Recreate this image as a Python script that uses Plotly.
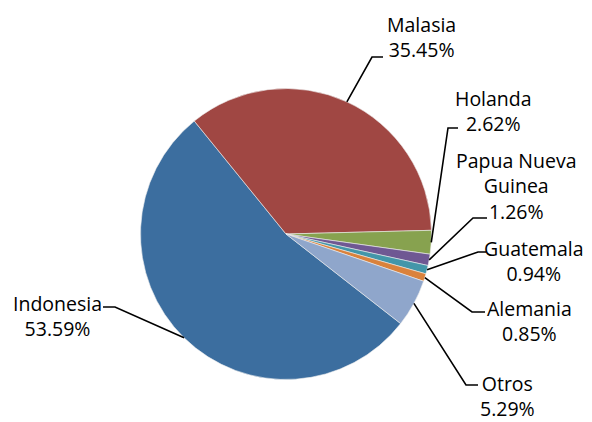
import math
import plotly.graph_objects as go

countries = ["Indonesia", "Malasia", "Holanda", "Papua Nueva Guinea", "Guatemala", "Alemania", "Otros"]
shares = [53.59, 35.45, 2.62, 1.26, 0.94, 0.85, 5.29]
label_texts = ["Indonesia<br>53.59%", "Malasia<br>35.45%", "Holanda<br>2.62%",
               "Papua Nueva<br>Guinea<br>1.26%", "Guatemala<br>0.94%",
               "Alemania<br>0.85%", "Otros<br>5.29%"]
colors = ["#3C6E9F", "#A04743", "#87A24F", "#6F5893", "#4396A9", "#DA823C", "#8FA6CB"]

# page body has an 8px margin: figure is drawn from (8, 8) in the window
OFF = 8
W, H = 592 - OFF, 422 - OFF
CX, CY, R = 286.0, 234.0, 145.5
ROT = 128.0

# label centres (window px) and elbow points (window px) for leader lines
label_pos = [(57, 316), (421, 37), (493, 111), (516, 186), (534, 261), (529, 321), (507, 396)]
elbow = [[(103, 307), (115, 307)],
         [(383, 57), (372, 57)],
         [(458, 128), (448, 128)],
         [(487, 218), (473, 218)],
         [(486, 252), (478, 252)],
         [(485, 312), (472, 312)],
         [(478, 385), (466, 385)]]

def px(x):
    return (x - OFF) / W

def py(y):
    return 1 - (y - OFF) / H

fig = go.Figure(go.Pie(
    labels=countries, values=shares, sort=False, direction="clockwise",
    rotation=ROT, marker=dict(colors=colors, line=dict(color="#EEEEEE", width=0.6)),
    textinfo="none", hoverinfo="label+percent", showlegend=False,
    domain=dict(x=[px(CX - R), px(CX + R)], y=[py(CY + R), py(CY - R)]),
))

total = sum(shares)
start = ROT
shapes = []
annotations = []
for i, v in enumerate(shares):
    span = v / total * 360
    mid = math.radians(start + span / 2)
    start += span
    ex = CX + R * math.sin(mid)
    ey = CY - R * math.cos(mid)
    (ax, ay), (bx, by) = elbow[i]
    path = f"M {px(ax)} {py(ay)} L {px(bx)} {py(by)} L {px(ex)} {py(ey)}"
    shapes.append(dict(type="path", xref="paper", yref="paper", path=path,
                       line=dict(color="black", width=1.6)))
    lx, ly = label_pos[i]
    annotations.append(dict(x=px(lx), y=py(ly), xref="paper", yref="paper",
                            text=label_texts[i], showarrow=False, align="center",
                            xanchor="center", yanchor="middle",
                            font=dict(family="Open Sans", size=19.5, color="black")))

fig.update_layout(width=W, height=H, margin=dict(l=0, r=0, t=0, b=0),
                  paper_bgcolor="white", plot_bgcolor="white",
                  shapes=shapes, annotations=annotations)
fig.write_html("out.html")
